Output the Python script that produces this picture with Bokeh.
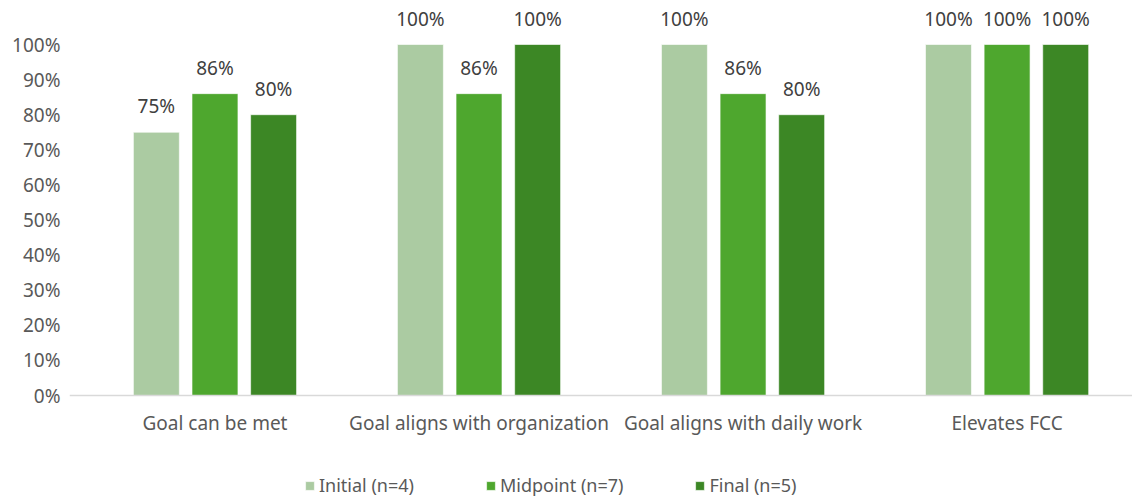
from bokeh.plotting import figure
from bokeh.models import ColumnDataSource, Range1d, FixedTicker, Legend, LegendItem, Span
from bokeh.core.properties import value
from bokeh.embed import file_html
from bokeh.resources import INLINE

categories = ["Goal can be met", "Goal aligns with organization", "Goal aligns with daily work", "Elevates FCC"]
series_names = ["Initial (n=4)", "Midpoint (n=7)", "Final (n=5)"]
initial = [75, 100, 100, 100]
midpoint = [86, 86, 86, 100]
final = [80, 100, 80, 100]
colors = ["#ABCBA2", "#4EA72E", "#3C8725"]
y_ticks = list(range(0, 101, 10))

FONT = "Noto Sans"
TEXT_COLOR = "#595959"
FS = "19px"

# the plot frame runs the full height so the category names and legend
# can sit beneath the baseline
p = figure(width=1132, height=501, output_backend="svg", toolbar_location=None,
           x_range=Range1d(-0.051, 3.975), y_range=Range1d(-30.2, 112.54),
           min_border_left=69, min_border_right=0, min_border_top=0, min_border_bottom=0)
p.outline_line_color = None
p.xgrid.grid_line_color = None
p.ygrid.grid_line_color = None
p.xaxis.visible = False

centers = [i + 0.5 for i in range(len(categories))]
offsets = [-0.222, 0.0, 0.222]
bar_w = 0.174

items = []
for vals, off, col, name in zip([initial, midpoint, final], offsets, colors, series_names):
    src = ColumnDataSource(dict(x=[c + off for c in centers], top=vals,
                                label=[f"{v}%" for v in vals]))
    r = p.vbar(x="x", top="top", width=bar_w, bottom=0, source=src,
               fill_color=col, line_color="white", line_alpha=0.6, line_width=1)
    p.text(x="x", y="top", text="label", source=src, text_align="center",
           text_baseline="bottom", y_offset=-13, text_font=value(FONT),
           text_font_size=FS, text_color="#404040")
    items.append(LegendItem(label=name, renderers=[r]))

# baseline
p.add_layout(Span(location=0, dimension="width", line_color="#D9D9D9", line_width=1.5))

# category names below the baseline
cat_src = ColumnDataSource(dict(x=centers, y=[0] * len(centers), name=categories))
p.text(x="x", y="y", text="name", source=cat_src, text_align="center",
       text_baseline="middle", y_offset=27, text_font=value(FONT),
       text_font_size=FS, text_color=TEXT_COLOR)

# y axis: percentage labels only
p.yaxis.ticker = FixedTicker(ticks=y_ticks)
p.yaxis.major_label_overrides = {t: f"{t}%" for t in y_ticks}
p.yaxis.axis_line_color = None
p.yaxis.major_tick_line_color = None
p.yaxis.minor_tick_line_color = None
p.yaxis.major_label_text_font = FONT
p.yaxis.major_label_text_font_size = FS
p.yaxis.major_label_text_color = TEXT_COLOR
p.yaxis.major_label_standoff = 3

legend = Legend(items=items, orientation="horizontal", location=(235, 4),
                label_text_font=FONT, label_text_font_size="18px",
                label_text_color=TEXT_COLOR, glyph_width=11, glyph_height=11,
                label_standoff=4, spacing=71, border_line_color=None,
                background_fill_alpha=0, padding=0, margin=0)
p.add_layout(legend, "center")

open("out.html", "w").write(file_html(p, INLINE))
